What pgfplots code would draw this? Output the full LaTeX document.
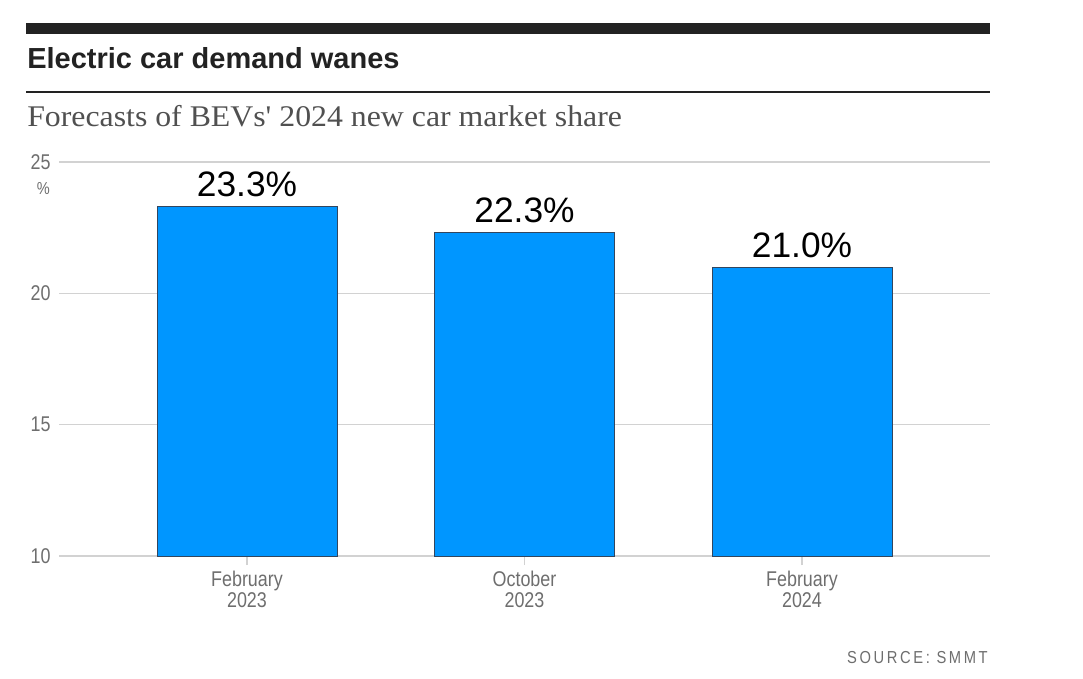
\documentclass[border=0pt]{standalone}
\usepackage{fontspec}
\setmainfont{Liberation Sans}
\newfontfamily\serif[FakeStretch=1.06]{Liberation Serif}
\newfontfamily\cond[FakeStretch=0.84]{Liberation Sans}
\newfontfamily\srcfont[FakeStretch=0.85,LetterSpace=15]{Liberation Sans}
\usepackage{pgfplots}
\pgfplotsset{compat=1.18}
\definecolor{barblue}{RGB}{0,150,255}
\definecolor{baredge}{RGB}{50,70,95}
\definecolor{ink}{RGB}{34,34,34}
\definecolor{subgray}{RGB}{80,80,80}
\definecolor{tickgray}{RGB}{110,110,110}
\definecolor{gridgray}{RGB}{210,210,210}
\begin{document}
\begin{tikzpicture}
\begin{scope}[x=0.75pt,y=-0.75pt]
\path[use as bounding box] (0,0) rectangle (1083,679);
\fill[ink] (26,23) rectangle (990,34);
\node[anchor=base west,inner sep=0,text=ink,font=\bfseries\fontsize{21.75}{24}\selectfont] at (27,68) {Electric car demand wanes};
\draw[ink,line width=1.1pt] (26,92) -- (990,92);
\node[anchor=base west,inner sep=0,text=subgray,font=\serif\fontsize{22.5}{26}\selectfont] at (27,126) {Forecasts of BEVs' 2024 new car market share};
\node[anchor=base east,inner sep=0,text=tickgray,font=\cond\fontsize{13}{14}\selectfont] at (50,194) {\%};
\node[anchor=base east,inner sep=0,text=tickgray,font=\srcfont\fontsize{13}{14}\selectfont] at (988,663) {SOURCE: SMMT};
\end{scope}
\begin{axis}[
  at={(44.25pt,-417pt)}, anchor=south west,
  scale only axis, width=698.25pt, height=295.5pt,
  xmin=-0.6775, xmax=2.6775, ymin=10, ymax=25,
  axis line style={draw=none},
  ymajorgrids, grid style={gridgray,line width=1.1pt},
  ytick={10,15,20,25},
  xtick={0,1,2},
  xticklabels={{February\\2023},{October\\2023},{February\\2024}},
  xticklabel style={align=center,text=tickgray,font=\cond\fontsize{16}{16}\selectfont,yshift=-1pt},
  yticklabel style={text=tickgray,font=\cond\fontsize{16}{16}\selectfont,xshift=4pt},
  /pgf/number format/assume math mode=true,
  tick pos=left,
  ytick style={draw=none},
  xtick style={draw=gridgray,line width=0.9pt},
  major tick length=6.75pt,
  tick align=outside,
  clip=false,
]
\addplot[ybar, bar width=0.6486, fill=barblue, draw=baredge, line width=0.7pt,
  nodes near coords={\pgfmathprintnumber[fixed,fixed zerofill,precision=1]{\pgfplotspointmeta}\%},
  every node near coord/.append style={anchor=base,inner sep=0,yshift=7.5pt,text=black,font=\fontsize{26.5}{28}\selectfont}]
  coordinates {(0,23.3) (1,22.3) (2,21.0)};
\end{axis}
\end{tikzpicture}
\end{document}
